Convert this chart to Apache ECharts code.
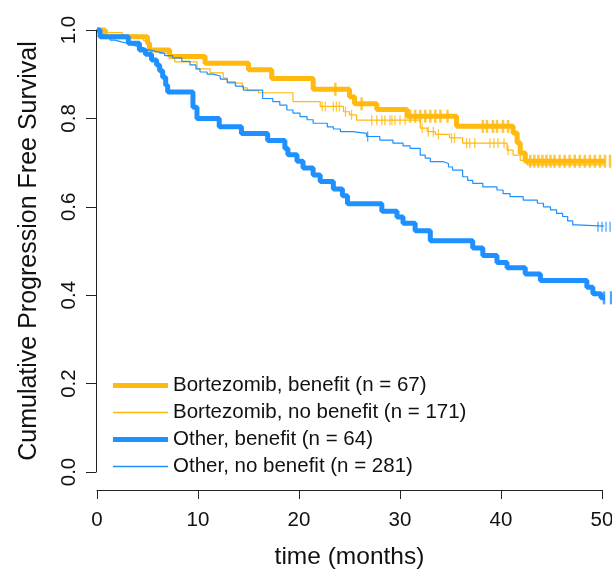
<!DOCTYPE html>
<html><head><meta charset="utf-8">
<script src="https://cdn.jsdelivr.net/npm/echarts@6/dist/echarts.min.js"></script>
<style>html,body{margin:0;padding:0;background:#fff}#c{width:612px;height:569px}</style>
</head><body><div id="c"></div>
<script>
// Kaplan-Meier step data: [time (months), survival after event]
const bortBenefit = [[0,1.0],[0.8,0.985],[5.0,0.970],[5.2,0.955],[7.2,0.940],[10.7,0.925],[15.0,0.910],[17.3,0.890],[21.4,0.866],[25.0,0.849],[25.5,0.833],[27.7,0.820],[30.7,0.805],[35.6,0.782],[41.2,0.767],[41.6,0.745],[41.9,0.722],[42.4,0.703],[51.6,0.703]];
const bortNoBenefit = [[0,1.0],[1.0,0.994],[2.5,0.988],[4.0,0.982],[4.6,0.976],[5.0,0.965],[5.2,0.953],[6.2,0.947],[7.2,0.940],[7.7,0.928],[9.9,0.912],[11.2,0.903],[12.5,0.891],[12.9,0.880],[14.4,0.869],[14.9,0.863],[16.0,0.858],[19.4,0.838],[22.1,0.827],[24.4,0.815],[25.0,0.808],[25.7,0.796],[32.0,0.778],[32.7,0.770],[33.5,0.764],[34.9,0.756],[36.2,0.744],[40.6,0.728],[41.2,0.717],[41.9,0.705],[42.6,0.695],[51.6,0.695]];
const otherBenefit = [[0,1.0],[0.3,0.985],[3.1,0.970],[4.2,0.955],[4.8,0.945],[5.4,0.932],[5.9,0.921],[6.2,0.908],[6.5,0.893],[6.8,0.875],[7.0,0.860],[9.5,0.825],[9.9,0.800],[12.1,0.781],[14.3,0.766],[16.9,0.750],[18.6,0.732],[18.9,0.718],[19.8,0.703],[20.4,0.688],[21.4,0.672],[22.1,0.657],[23.4,0.640],[24.3,0.625],[24.8,0.607],[28.2,0.590],[29.7,0.577],[30.3,0.563],[31.5,0.546],[33.0,0.523],[37.2,0.507],[38.2,0.490],[39.6,0.474],[40.6,0.462],[42.4,0.448],[43.9,0.433],[48.5,0.418],[49.1,0.403],[49.9,0.394],[51.6,0.394]];
const otherNoBenefit = [[0,1.0],[0.3,0.990],[0.6,0.982],[1.3,0.977],[1.8,0.973],[2.4,0.970],[3.0,0.966],[3.5,0.963],[4.0,0.960],[4.6,0.955],[5.2,0.951],[5.9,0.947],[6.7,0.942],[7.5,0.937],[8.4,0.929],[9.2,0.921],[9.8,0.912],[10.2,0.905],[10.9,0.900],[11.5,0.896],[12.2,0.889],[12.9,0.882],[13.7,0.873],[14.5,0.864],[16.4,0.845],[17.4,0.838],[18.1,0.830],[18.8,0.819],[19.4,0.812],[20.1,0.804],[20.8,0.797],[21.4,0.789],[22.8,0.781],[23.4,0.776],[24.1,0.770],[25.3,0.766],[26.7,0.759],[28.0,0.751],[29.3,0.744],[30.3,0.738],[31.0,0.732],[32.0,0.717],[32.5,0.710],[33.0,0.702],[34.3,0.698],[34.8,0.690],[35.2,0.683],[36.2,0.668],[36.7,0.660],[37.2,0.653],[38.2,0.645],[39.6,0.638],[40.2,0.630],[40.9,0.623],[42.2,0.615],[43.6,0.608],[44.2,0.600],[44.9,0.593],[45.5,0.585],[46.1,0.578],[46.6,0.568],[47.1,0.559],[47.5,0.555],[51.6,0.555]];

// censoring times (months)
const censBortBenefit = [23.6,26.2,31.0,31.5,32.0,32.5,33.0,33.5,34.0,34.7,38.2,38.6,39.2,39.6,40.2,40.7,42.9,43.3,43.7,44.1,44.5,44.9,45.3,45.8,46.3,46.8,47.3,47.8,48.3,48.8,49.3,49.8,50.3,50.8];
const censBortNoBenefit = [22.3,22.6,23.4,23.7,24.0,24.6,25.2,27.2,27.7,28.2,28.5,29.0,29.2,29.5,30.0,30.5,32.2,32.8,33.3,33.8,35.1,35.4,36.6,36.9,37.4,38.9,39.3,39.7,40.3,40.7];
const censOtherBenefit = [50.2,50.9];
const censOtherNoBenefit = [26.8,49.6,50.0,50.4,50.8,51.2];

const names = ['Bortezomib, benefit (n = 67)','Bortezomib, no benefit (n = 171)','Other, benefit (n = 64)','Other, no benefit (n = 281)'];
const xTicks = [0,10,20,30,40,50];
const yTicks = [0.0,0.2,0.4,0.6,0.8,1.0];

const ORANGE = '#FFB90F', BLUE = '#1E90FF';
function survAt(curve, t){ let s = curve[0][1]; for (const p of curve){ if (p[0] <= t) s = p[1]; else break; } return s; }
function cens(curve, times){ return times.map(t => [t, survAt(curve, t)]); }

const curves = [bortBenefit, bortNoBenefit, otherBenefit, otherNoBenefit];
const censors = [censBortBenefit, censBortNoBenefit, censOtherBenefit, censOtherNoBenefit];
const colors = [ORANGE, ORANGE, BLUE, BLUE];
const widths = [5, 1.2, 5, 1.2];

const series = [];
curves.forEach((c, i) => {
  series.push({ name: names[i], type: 'line', step: 'end', data: c, symbol: 'none', clip: false,
    lineStyle: { color: colors[i], width: widths[i] }, itemStyle: { color: colors[i] }, animation: false, z: 2 });
});
censors.forEach((cs, i) => {
  const thick = widths[i] > 2;
  series.push({ name: 'cens' + i, type: 'scatter', data: cens(curves[i], cs), clip: false, symbol: 'rect',
    symbolSize: thick ? [2.5, 13] : [1.3, 10], itemStyle: { color: colors[i] }, animation: false, z: 3 });
});

const thickIcon = 'path://M0,0H110V10H0Z';
const thinIcon = 'path://M0,0H440V12H0Z';
const legendData = names.map((n, i) => ({ name: n, icon: widths[i] > 2 ? thickIcon : thinIcon }));

const chart = echarts.init(document.getElementById('c'), null, { renderer: 'canvas' });
const font = 'Liberation Sans, Arial, sans-serif';
chart.setOption({
  backgroundColor: '#fff',
  animation: false,
  grid: { left: 97, right: 10, top: 30, bottom: 97, outerBoundsMode: 'none', containLabel: false },
  legend: {
    data: legendData, orient: 'vertical', left: 113, top: 375, padding: 0, itemWidth: 55, itemHeight: 20, itemGap: 6,
    textStyle: { fontFamily: font, fontSize: 20.5, color: '#111', lineHeight: 20 }, selectedMode: false
  },
  xAxis: {
    type: 'value', min: 0, max: 50, interval: 10, offset: 18,
    name: 'time (months)', nameLocation: 'middle', nameGap: 55,
    nameTextStyle: { fontFamily: font, fontSize: 24.5, color: '#111' },
    axisLine: { show: true, onZero: false, lineStyle: { color: '#222', width: 1 } },
    axisTick: { show: true, length: 9, lineStyle: { color: '#222' } },
    axisLabel: { fontFamily: font, fontSize: 20.5, color: '#111', margin: 20, formatter: v => xTicks.includes(v) ? String(v) : '' },
    splitLine: { show: false }
  },
  yAxis: {
    type: 'value', min: 0, max: 1, interval: 0.2, offset: 1,
    name: 'Cumulative Progression Free Survival', nameLocation: 'middle', nameGap: 54, nameRotate: 90,
    nameTextStyle: { fontFamily: font, fontSize: 25, color: '#111' },
    axisLine: { show: true, onZero: false, lineStyle: { color: '#222', width: 1 } },
    axisTick: { show: true, length: 10, lineStyle: { color: '#222' } },
    axisLabel: { fontFamily: font, fontSize: 20.5, color: '#111', rotate: 90, margin: 16,
      formatter: v => { const m = yTicks.find(t => Math.abs(t - v) < 1e-9); return m === undefined ? '' : m.toFixed(1); } },
    splitLine: { show: false }
  },
  series: series
});
</script></body></html>
